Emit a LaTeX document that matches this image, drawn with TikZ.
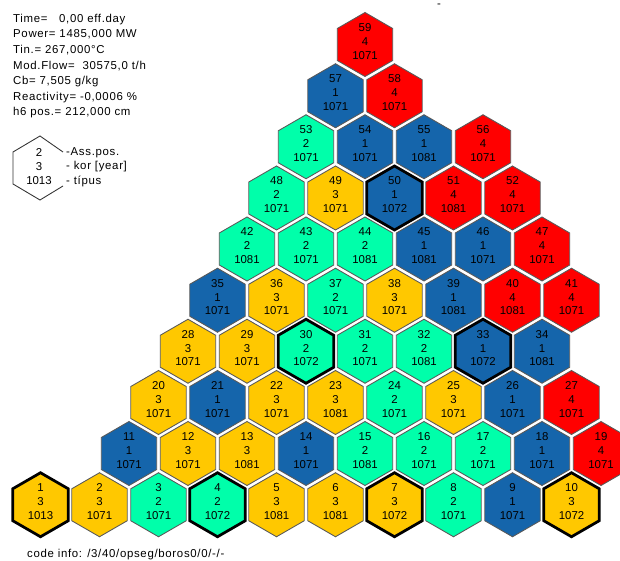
\documentclass[tikz,border=0pt]{standalone}
\usepackage{xcolor}
\usepackage{fontspec}
\setmainfont{Liberation Sans}
\newfontfamily\notefont[LetterSpace=6]{Liberation Sans}
\usetikzlibrary{shapes.geometric}

\definecolor{korblue}{HTML}{1565AB}
\definecolor{korgreen}{HTML}{00FFAA}
\definecolor{koryellow}{HTML}{FFC800}
\definecolor{korred}{HTML}{FF0000}

\begin{document}
\begin{tikzpicture}[
    every node/.style={font=\fontsize{13}{15.9}\selectfont},
    hex/.style={draw=black!65, line width=0.035cm, regular polygon, regular polygon sides=6, shape border rotate=30, minimum size=2.56cm, inner sep=0pt, align=center, text height=1.18cm, text depth=0pt},
    hexb/.style={hex, fill=korblue},
    hexg/.style={hex, fill=korgreen},
    hexy/.style={hex, fill=koryellow},
    hexr/.style={hex, fill=korred},
    fresh/.style={draw=black, line width=0.11cm},
    note/.style={anchor=west, inner sep=0pt, font=\fontsize{13}{15.9}\notefont}
]
\useasboundingbox (0,0) rectangle (24.8,22.4);

% info block
\node[anchor=north west, inner sep=0pt, align=left, font=\fontsize{13}{17.7}\notefont] (info) at (0.52,21.84) {Time=\ \ \ 0,00 eff.day\\Power= 1485,000 MW\\Tin.= 267,000°C\\Mod.Flow=\ \ 30575,0 t/h\\Cb= 7,505 g/kg\\Reactivity= -0,0006 \%\\h6 pos.= 212,000 cm};
\node[inner sep=0pt] (tick) at (17.56,22.16) {-};

% legend
\coordinate (l1) at (2.52,16.32);
\coordinate (l2) at (1.6,16.96);
\coordinate (l3) at (0.52,16.32);
\coordinate (l4) at (0.52,15.04);
\coordinate (l5) at (1.6,14.4);
\coordinate (l6) at (2.52,14.96);
\draw[line width=0.035cm, draw=black!80] (l1) -- (l2) -- (l3) -- (l4) -- (l5) -- (l6);
\node[align=center, inner sep=0pt] (legend) at (1.56,15.74) {2\\3\\1013};
\node[note] (lpos) at (2.64,16.28) {-Ass.pos.};
\node[note] (lkor) at (2.64,15.72) {- kor [year]};
\node[note] (ltip) at (2.64,15.16) {- típus};

% row 1
\node[hexy, fresh] (a1) at (1.62,2.21) {1\\3\\1013};
\node[hexy] (a2) at (3.98,2.21) {2\\3\\1071};
\node[hexg] (a3) at (6.34,2.21) {3\\2\\1071};
\node[hexg, fresh] (a4) at (8.70,2.21) {4\\2\\1072};
\node[hexy] (a5) at (11.06,2.21) {5\\3\\1081};
\node[hexy] (a6) at (13.42,2.21) {6\\3\\1081};
\node[hexy, fresh] (a7) at (15.78,2.21) {7\\3\\1072};
\node[hexg] (a8) at (18.14,2.21) {8\\2\\1071};
\node[hexb] (a9) at (20.50,2.21) {9\\1\\1071};
\node[hexy, fresh] (a10) at (22.86,2.21) {10\\3\\1072};

% row 2
\node[hexb] (a11) at (5.16,4.26) {11\\1\\1071};
\node[hexy] (a12) at (7.52,4.26) {12\\3\\1071};
\node[hexy] (a13) at (9.88,4.26) {13\\3\\1081};
\node[hexb] (a14) at (12.24,4.26) {14\\1\\1071};
\node[hexg] (a15) at (14.60,4.26) {15\\2\\1081};
\node[hexg] (a16) at (16.96,4.26) {16\\2\\1071};
\node[hexg] (a17) at (19.32,4.26) {17\\2\\1071};
\node[hexb] (a18) at (21.68,4.26) {18\\1\\1071};
\node[hexr] (a19) at (24.04,4.26) {19\\4\\1071};

% row 3
\node[hexy] (a20) at (6.34,6.30) {20\\3\\1071};
\node[hexb] (a21) at (8.70,6.30) {21\\1\\1071};
\node[hexy] (a22) at (11.06,6.30) {22\\3\\1071};
\node[hexy] (a23) at (13.42,6.30) {23\\3\\1081};
\node[hexg] (a24) at (15.78,6.30) {24\\2\\1071};
\node[hexy] (a25) at (18.14,6.30) {25\\3\\1071};
\node[hexb] (a26) at (20.50,6.30) {26\\1\\1071};
\node[hexr] (a27) at (22.86,6.30) {27\\4\\1071};

% row 4
\node[hexy] (a28) at (7.52,8.35) {28\\3\\1071};
\node[hexy] (a29) at (9.88,8.35) {29\\3\\1071};
\node[hexg, fresh] (a30) at (12.24,8.35) {30\\2\\1072};
\node[hexg] (a31) at (14.60,8.35) {31\\2\\1071};
\node[hexg] (a32) at (16.96,8.35) {32\\2\\1081};
\node[hexb, fresh] (a33) at (19.32,8.35) {33\\1\\1072};
\node[hexb] (a34) at (21.68,8.35) {34\\1\\1081};

% row 5
\node[hexb] (a35) at (8.70,10.39) {35\\1\\1071};
\node[hexy] (a36) at (11.06,10.39) {36\\3\\1071};
\node[hexg] (a37) at (13.42,10.39) {37\\2\\1071};
\node[hexy] (a38) at (15.78,10.39) {38\\3\\1071};
\node[hexb] (a39) at (18.14,10.39) {39\\1\\1081};
\node[hexr] (a40) at (20.50,10.39) {40\\4\\1081};
\node[hexr] (a41) at (22.86,10.39) {41\\4\\1071};

% row 6
\node[hexg] (a42) at (9.88,12.44) {42\\2\\1081};
\node[hexg] (a43) at (12.24,12.44) {43\\2\\1071};
\node[hexg] (a44) at (14.60,12.44) {44\\2\\1081};
\node[hexb] (a45) at (16.96,12.44) {45\\1\\1081};
\node[hexb] (a46) at (19.32,12.44) {46\\1\\1071};
\node[hexr] (a47) at (21.68,12.44) {47\\4\\1071};

% row 7
\node[hexg] (a48) at (11.06,14.48) {48\\2\\1071};
\node[hexy] (a49) at (13.42,14.48) {49\\3\\1071};
\node[hexb, fresh] (a50) at (15.78,14.48) {50\\1\\1072};
\node[hexr] (a51) at (18.14,14.48) {51\\4\\1081};
\node[hexr] (a52) at (20.50,14.48) {52\\4\\1071};

% row 8
\node[hexg] (a53) at (12.24,16.53) {53\\2\\1071};
\node[hexb] (a54) at (14.60,16.53) {54\\1\\1071};
\node[hexb] (a55) at (16.96,16.53) {55\\1\\1081};
\node[hexr] (a56) at (19.32,16.53) {56\\4\\1071};

% top rows
\node[hexb] (a57) at (13.42,18.57) {57\\1\\1071};
\node[hexr] (a58) at (15.78,18.57) {58\\4\\1071};
\node[hexr] (a59) at (14.60,20.62) {59\\4\\1071};

% code line
\node[note] (code) at (1.08,0.2) {code info: /3/40/opseg/boros0/0/-/-};

\end{tikzpicture}
\end{document}
